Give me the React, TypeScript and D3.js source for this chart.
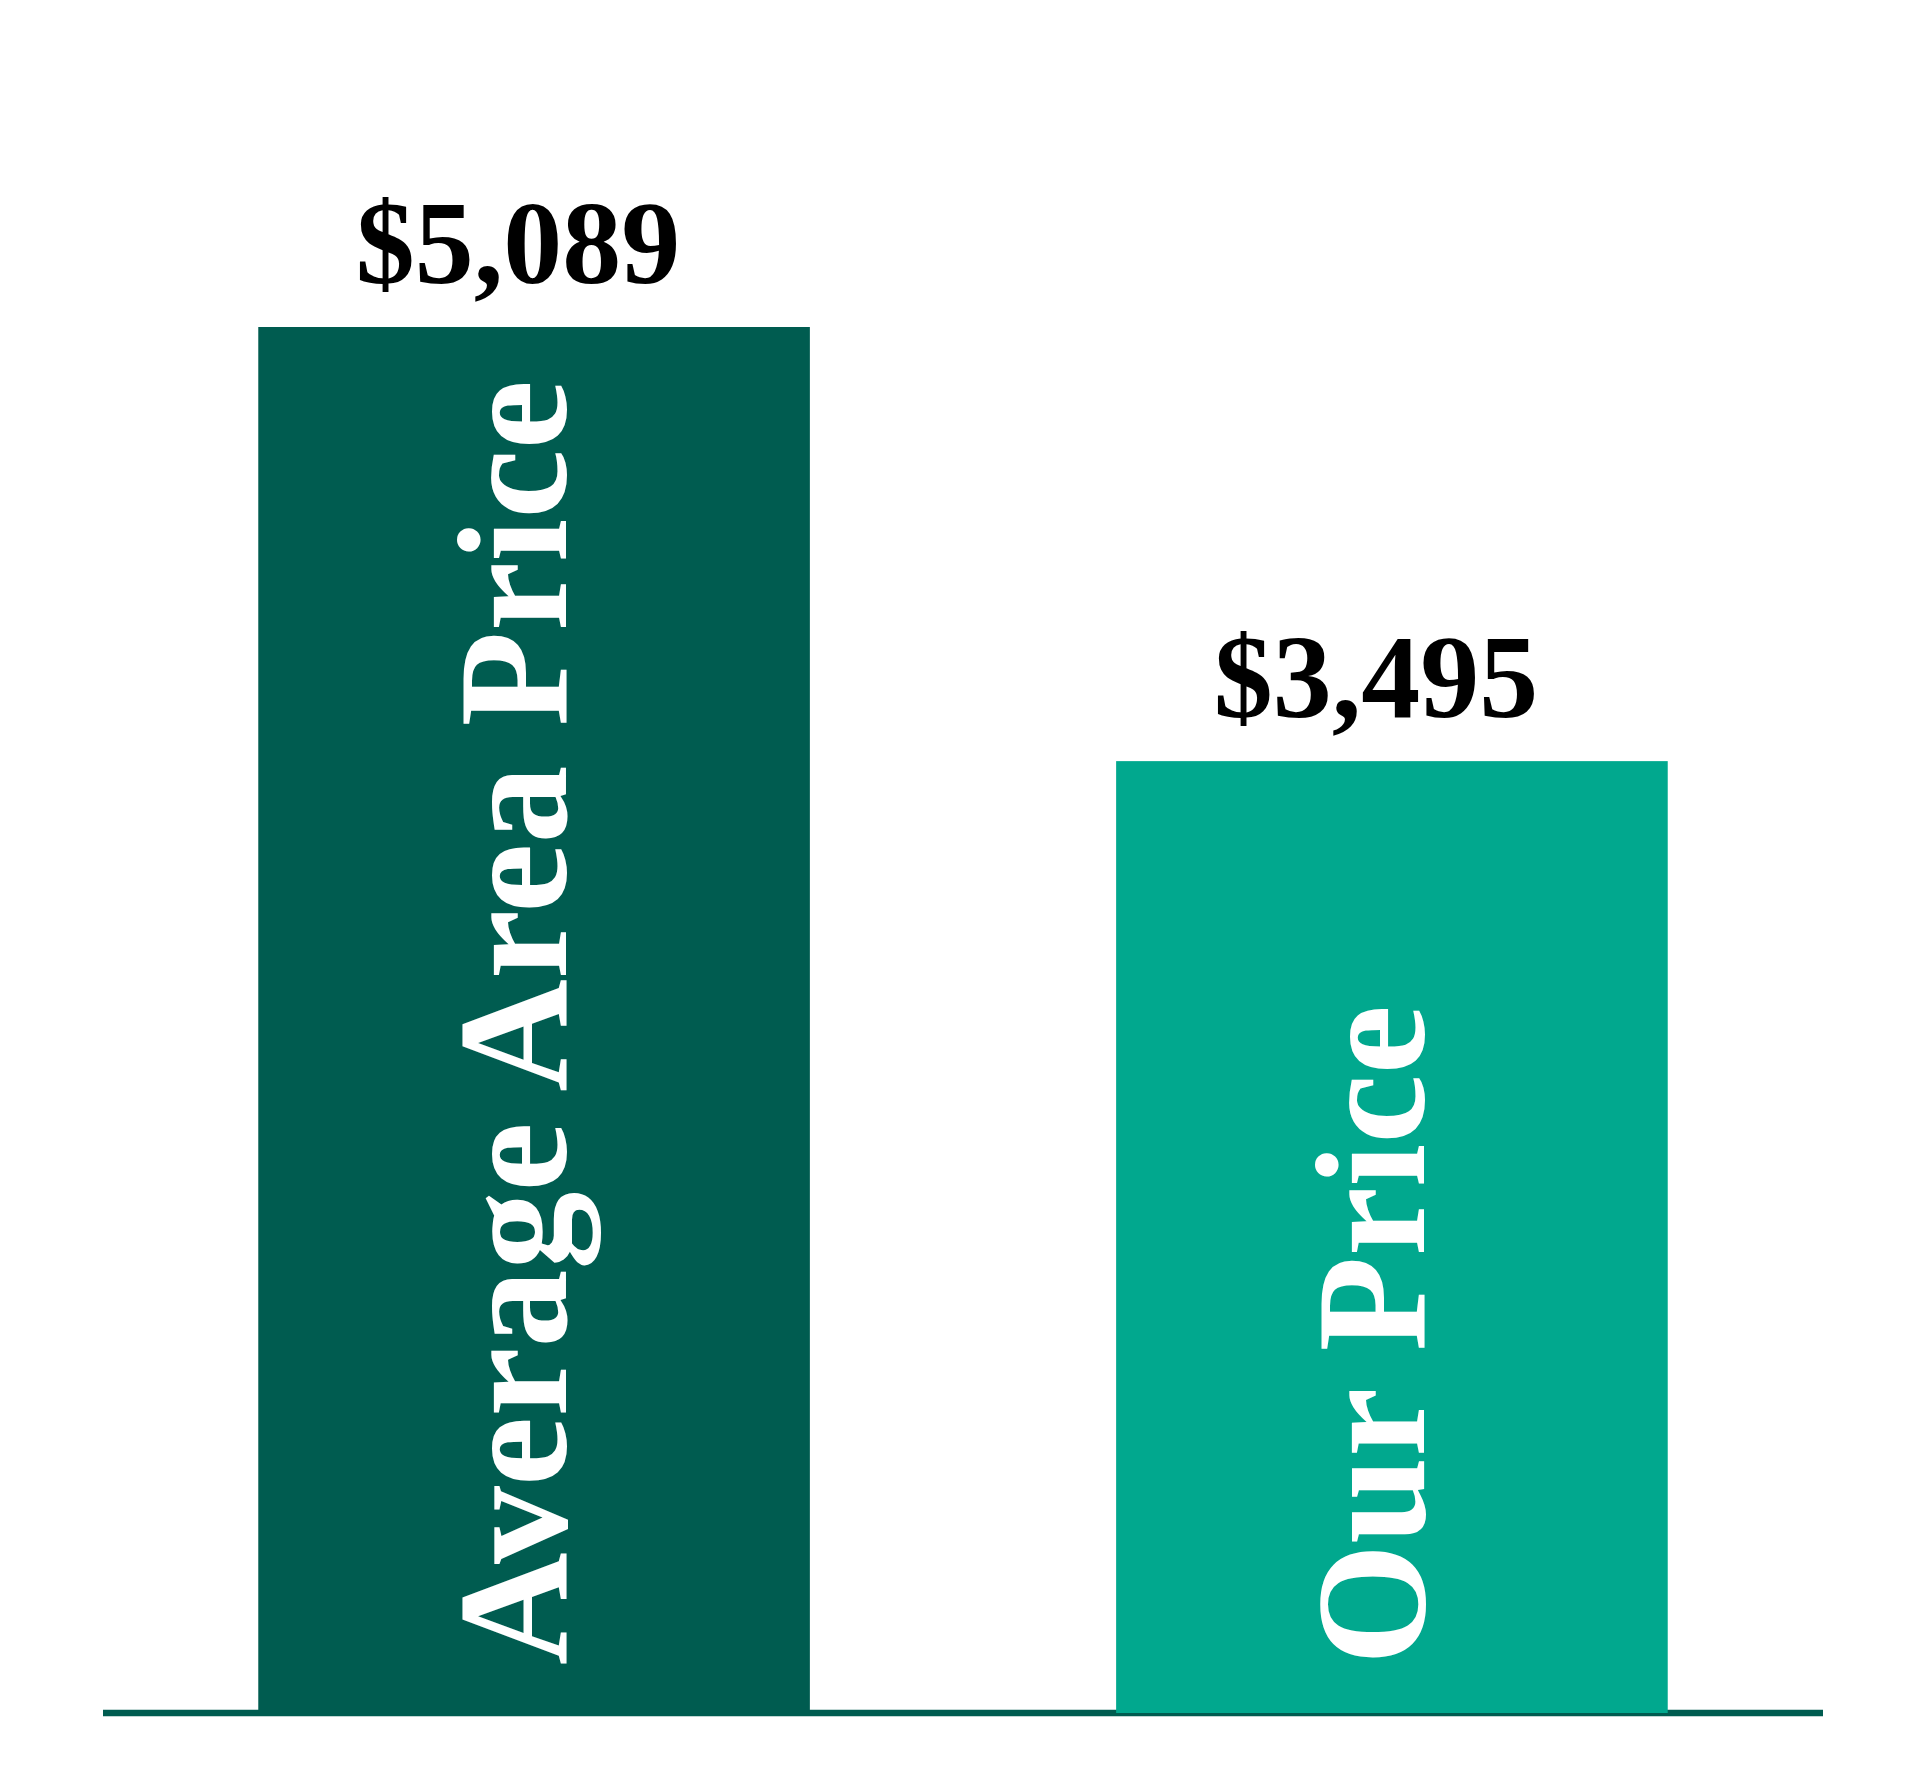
import { useEffect, useRef } from 'react';
import * as d3 from 'd3';

const categories = ['Average Area Price', 'Our Price'];
const prices = [5089, 3495];
const barColours = ['#005c50', '#01a88e'];

const WIDTH = 1920;
const HEIGHT = 1792;
const FONT = '"Liberation Serif", "Times New Roman", serif';

export default function App() {
  const svgRef = useRef<SVGSVGElement>(null);

  useEffect(() => {
    if (!svgRef.current) return;
    const svg = d3.select(svgRef.current);
    svg.selectAll('*').remove();

    const data = categories.map((c, i) => ({ label: c, value: prices[i], colour: barColours[i] }));

    const x = d3.scaleBand<string>()
      .domain(categories)
      .range([103, 1823])
      .paddingInner(0.357)
      .paddingOuter(0.181);

    const y = d3.scaleLinear()
      .domain([0, d3.max(prices) as number])
      .range([1713, 327]);

    // Baseline
    svg.append('line')
      .attr('x1', x.range()[0])
      .attr('x2', x.range()[1])
      .attr('y1', y(0))
      .attr('y2', y(0))
      .attr('stroke', '#005c50')
      .attr('stroke-width', 6.5);

    // Bars
    svg.selectAll('rect.bar')
      .data(data)
      .join('rect')
      .attr('class', 'bar')
      .attr('x', d => x(d.label)!)
      .attr('width', x.bandwidth())
      .attr('y', d => y(d.value))
      .attr('height', d => y(0) - y(d.value))
      .attr('fill', d => d.colour);

    // Value labels above bars
    svg.selectAll('text.value')
      .data(data)
      .join('text')
      .attr('class', 'value')
      .attr('x', d => x(d.label)! + x.bandwidth() / 2 - 16)
      .attr('y', d => y(d.value) - 44)
      .attr('text-anchor', 'middle')
      .attr('font-family', FONT)
      .attr('font-weight', 700)
      .attr('font-size', 118)
      .attr('fill', '#000')
      .text(d => d3.format('$,')(d.value));

    // Category labels inside bars, reading upward
    svg.selectAll('text.cat')
      .data(data)
      .join('text')
      .attr('class', 'cat')
      .attr('transform', d => {
        const cx = x(d.label)! + x.bandwidth() / 2 + 32;
        return `translate(${cx},${y(0) - 48}) rotate(-90)`;
      })
      .attr('text-anchor', 'start')
      .attr('font-family', FONT)
      .attr('font-weight', 700)
      .attr('font-size', 156)
      .attr('fill', '#fff')
      .text(d => d.label);
  }, []);

  return (
    <div style={{ position: 'absolute', left: 0, top: 0, background: '#fff' }}>
      <svg ref={svgRef} width={WIDTH} height={HEIGHT} style={{ display: 'block' }} />
    </div>
  );
}
